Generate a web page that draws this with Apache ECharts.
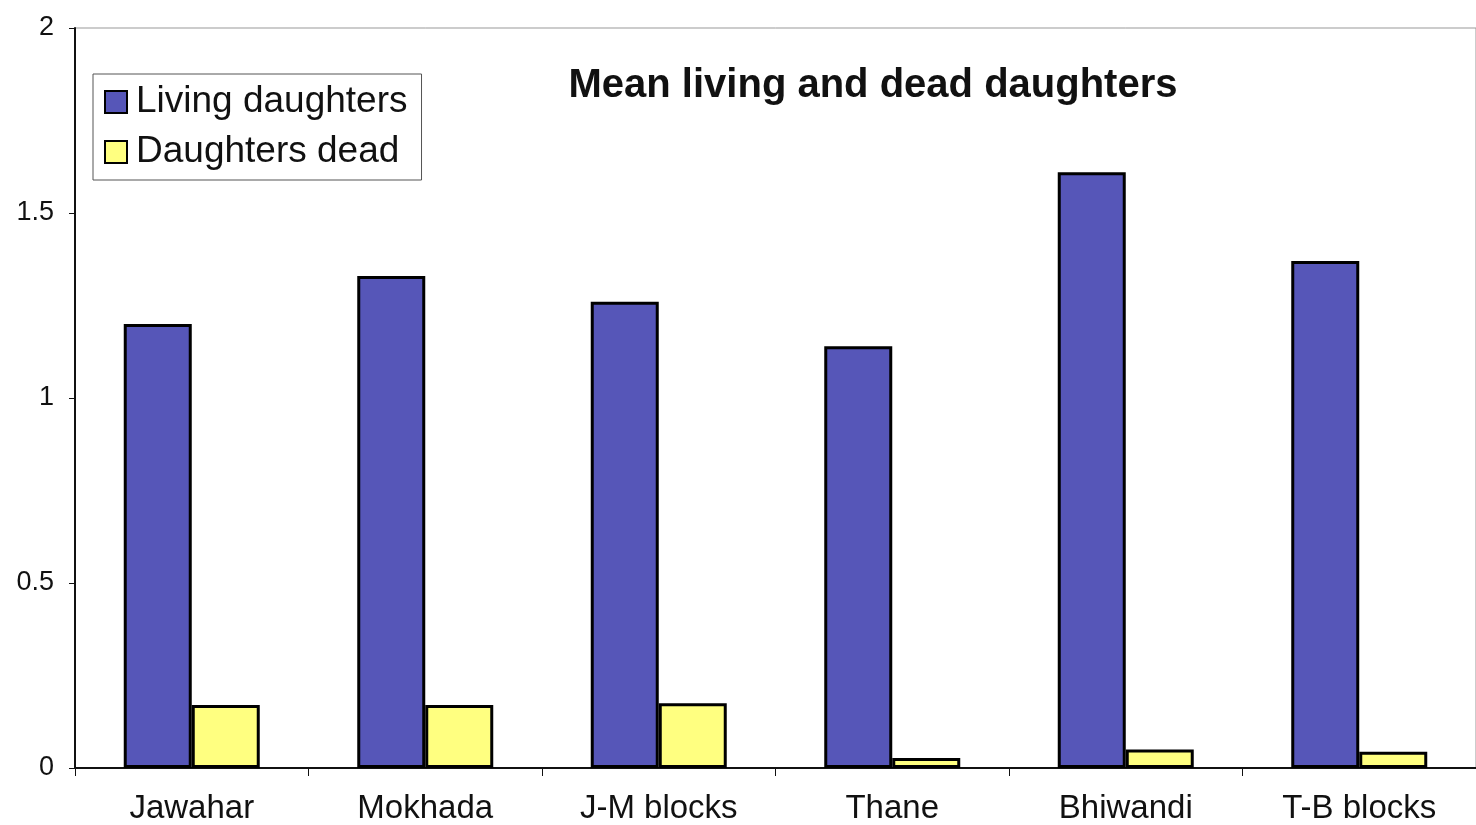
<!DOCTYPE html>
<html>
<head>
<meta charset="utf-8">
<script src="https://cdn.jsdelivr.net/npm/echarts@6/dist/echarts.min.js"></script>
<style>
  html, body { margin: 0; padding: 0; background: #fff; }
  #chart { width: 1476px; height: 825px; }
</style>
</head>
<body>
<div id="chart"></div>
<script>
var categories = ['Jawahar', 'Mokhada', 'J-M blocks', 'Thane', 'Bhiwandi', 'T-B blocks'];
var livingDaughters = [1.2, 1.33, 1.26, 1.14, 1.61, 1.37];
var daughtersDead = [0.17, 0.17, 0.175, 0.027, 0.05, 0.044];

var font = 'Liberation Sans';
var chart = echarts.init(document.getElementById('chart'));

chart.setOption({
  animation: false,
  backgroundColor: '#fff',
  title: {
    text: 'Mean living and dead daughters',
    left: 868,
    textAlign: 'center',
    top: 61,
    textStyle: {
      fontFamily: font,
      fontSize: 40,
      fontWeight: 'bold',
      color: '#111'
    }
  },
  legend: {
    orient: 'vertical',
    left: 93,
    top: 74,
    padding: [9, 14, 9, 11],
    itemWidth: 22,
    itemHeight: 22,
    itemGap: 12,
    icon: 'rect',
    backgroundColor: '#fff',
    borderColor: '#555',
    borderWidth: 1,
    itemStyle: {
      borderColor: '#000',
      borderWidth: 2
    },
    textStyle: {
      fontFamily: font,
      fontSize: 37,
      lineHeight: 38,
      padding: [0, 0, 0, 4],
      color: '#111'
    },
    data: ['Living daughters', 'Daughters dead']
  },
  grid: {
    left: 75,
    top: 28,
    width: 1410,
    height: 740,
    show: true,
    borderColor: '#999',
    borderWidth: 1
  },
  xAxis: {
    type: 'category',
    data: categories,
    axisLine: { lineStyle: { color: '#111', width: 2 } },
    axisTick: { show: true, length: 8, lineStyle: { color: '#111', width: 1 } },
    axisLabel: {
      margin: 24,
      fontFamily: font,
      fontSize: 33,
      color: '#111'
    }
  },
  yAxis: {
    type: 'value',
    min: 0,
    max: 2,
    interval: 0.5,
    splitLine: { show: false },
    axisLine: { show: true, lineStyle: { color: '#111', width: 2 } },
    axisTick: { show: true, length: 6, lineStyle: { color: '#111' } },
    axisLabel: {
      margin: 21,
      fontFamily: font,
      fontSize: 27,
      color: '#111'
    }
  },
  series: [
    {
      name: 'Living daughters',
      type: 'bar',
      data: livingDaughters,
      barWidth: 68,
      barGap: '0%',
      itemStyle: {
        color: '#5656b8',
        borderColor: '#000',
        borderWidth: 3
      }
    },
    {
      name: 'Daughters dead',
      type: 'bar',
      data: daughtersDead,
      barWidth: 68,
      barGap: '0%',
      itemStyle: {
        color: '#ffff80',
        borderColor: '#000',
        borderWidth: 3
      }
    }
  ]
});
</script>
</body>
</html>
